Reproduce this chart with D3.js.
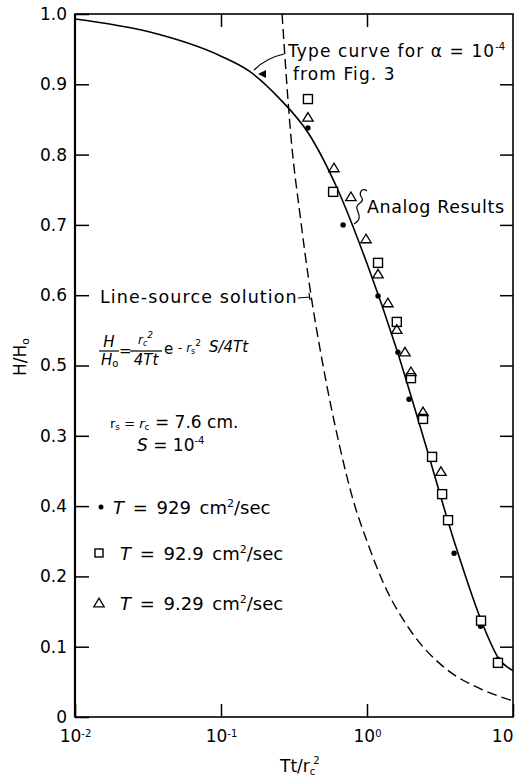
<!DOCTYPE html>
<html><head><meta charset="utf-8">
<script src="https://cdn.jsdelivr.net/npm/d3@7"></script>
<style>
html,body{margin:0;padding:0;background:#fff;}
svg{display:block;font-family:"DejaVu Sans",sans-serif;}
</style></head><body>
<svg id="chart" width="519" height="778"></svg>
<script>
// ---------- data ----------
const xTickValues = [0.01, 0.1, 1, 10];
const xTickBase = ["10", "10", "10", "10"];
const xTickExponents = ["-2", "-1", "0", ""];
const yTickValues = [0, 0.1, 0.2, 0.3, 0.4, 0.5, 0.6, 0.7, 0.8, 0.9, 1.0];
// labels as printed in the original figure
const yTickLabels = ["0", "0.1", "0.2", "0.4", "0.3", "0.5", "0.6", "0.7", "0.8", "0.9", "1.0"];

// type curve for alpha = 1e-4 (solid)
const typeCurveU = [0.01, 0.0316, 0.1, 0.158, 0.251, 0.398, 0.631, 1.0, 1.585, 2.512, 3.981, 6.31, 7.94, 10];
const typeCurveH = [0.993, 0.975, 0.940, 0.918, 0.880, 0.830, 0.750, 0.645, 0.525, 0.388, 0.248, 0.128, 0.084, 0.066];

// line-source solution (dashed)
const lineSourceU = [0.262, 0.3, 0.35, 0.4, 0.5, 0.65, 0.8, 1.0, 1.3, 2.0, 3.5, 6.0, 10];
const lineSourceH = [1.0, 0.83, 0.71, 0.62, 0.50, 0.385, 0.31, 0.25, 0.19, 0.122, 0.068, 0.040, 0.023];

// analog results
const dotU = [0.394, 0.686, 1.19, 1.63, 1.94, 3.95, 6.0, 7.89];
const dotH = [0.838, 0.700, 0.599, 0.519, 0.452, 0.233, 0.129, 0.082];
const squareU = [0.394, 0.586, 1.19, 1.60, 2.0, 2.42, 2.79, 3.27, 3.59, 6.04, 7.89];
const squareH = [0.879, 0.747, 0.646, 0.562, 0.482, 0.424, 0.370, 0.317, 0.280, 0.137, 0.077];
const triU = [0.394, 0.594, 0.776, 0.984, 1.19, 1.39, 1.60, 1.82, 2.0, 2.42, 3.21];
const triH = [0.853, 0.781, 0.740, 0.680, 0.630, 0.589, 0.551, 0.519, 0.491, 0.434, 0.349];

// ---------- layout ----------
const X0 = 75, X1 = 513, Y0 = 717, Y1 = 14;
const svg = d3.select("#chart");
const x = d3.scaleLog().domain([0.01, 10]).range([X0, X1]);
const y = d3.scaleLinear().domain([0, 1]).range([Y0, Y1]);

function styleAxis(g) {
  g.attr("font-family", null).attr("font-size", 17);
  g.select(".domain").remove();
  g.selectAll(".tick line").attr("stroke", "#000").attr("stroke-width", 1.5);
  g.selectAll(".tick text").attr("fill", "#000");
}

// bottom axis
const gx = svg.append("g").attr("transform", `translate(0,${Y0})`)
  .call(d3.axisBottom(x).tickValues(xTickValues).tickSizeInner(-13).tickSizeOuter(0).tickPadding(13).tickFormat(() => ""));
styleAxis(gx);
gx.selectAll(".tick text").each(function(d, i) {
  const t = d3.select(this);
  t.text(null);
  t.append("tspan").text(xTickBase[i]);
  if (xTickExponents[i]) t.append("tspan").attr("dy", "-0.5em").attr("font-size", 10).text(xTickExponents[i]);
  if (i === xTickValues.length - 1) t.attr("text-anchor", "end");
});

// top axis (inner ticks only)
const gt = svg.append("g").attr("transform", `translate(0,${Y1})`)
  .call(d3.axisTop(x).tickValues([0.1, 1]).tickSizeInner(-13).tickSizeOuter(0).tickFormat(() => ""));
styleAxis(gt);

// left axis
const gy = svg.append("g").attr("transform", `translate(${X0},0)`)
  .call(d3.axisLeft(y).tickValues(yTickValues).tickSizeInner(-14).tickSizeOuter(0).tickPadding(8)
    .tickFormat((d, i) => yTickLabels[i]));
styleAxis(gy);

// right axis (inner ticks only)
const gr = svg.append("g").attr("transform", `translate(${X1},0)`)
  .call(d3.axisRight(y).tickValues(yTickValues.slice(1, 10)).tickSizeInner(-13).tickSizeOuter(0).tickFormat(() => ""));
styleAxis(gr);

// frame
svg.append("rect").attr("x", X0).attr("y", Y1).attr("width", X1 - X0).attr("height", Y0 - Y1)
  .attr("fill", "none").attr("stroke", "#000").attr("stroke-width", 1.6);
svg.append("line").attr("x1", X0).attr("x2", X0).attr("y1", Y1).attr("y2", Y0)
  .attr("stroke", "#000").attr("stroke-width", 2.2);

// ---------- curves ----------
const line = d3.line().x(d => x(d[0])).y(d => y(d[1])).curve(d3.curveMonotoneX);
svg.append("path").datum(typeCurveU.map((u, i) => [u, typeCurveH[i]]))
  .attr("d", line).attr("fill", "none").attr("stroke", "#000").attr("stroke-width", 1.6);
svg.append("path").datum(lineSourceU.map((u, i) => [u, lineSourceH[i]]))
  .attr("d", line).attr("fill", "none").attr("stroke", "#000").attr("stroke-width", 1.4)
  .attr("stroke-dasharray", "10,5");

// ---------- markers ----------
svg.append("g").selectAll("circle").data(dotU.map((u, i) => [u, dotH[i]])).join("circle")
  .attr("cx", d => x(d[0])).attr("cy", d => y(d[1])).attr("r", 2.7).attr("fill", "#000");
svg.append("g").selectAll("rect").data(squareU.map((u, i) => [u, squareH[i]])).join("rect")
  .attr("x", d => x(d[0]) - 4.5).attr("y", d => y(d[1]) - 4.5).attr("width", 9).attr("height", 9)
  .attr("fill", "#fff").attr("stroke", "#000").attr("stroke-width", 1.4);
const triPath = "M0,-4.8L5.2,3.8L-5.2,3.8Z";
svg.append("g").selectAll("path").data(triU.map((u, i) => [u, triH[i]])).join("path")
  .attr("transform", d => `translate(${x(d[0])},${y(d[1])})`).attr("d", triPath)
  .attr("fill", "none").attr("stroke", "#000").attr("stroke-width", 1.3);

// ---------- annotations ----------
const txt = svg.append("g").attr("fill", "#000");

// Type curve note
const tc = txt.append("text").attr("x", 288).attr("y", 57).attr("font-size", 17).attr("letter-spacing", 1.1);
tc.append("tspan").text("Type curve for α = 10");
tc.append("tspan").attr("dy", -7).attr("font-size", 10).attr("letter-spacing", 0).text("-4");
txt.append("text").attr("x", 293).attr("y", 80).attr("font-size", 17).attr("letter-spacing", 1.1).text("from Fig. 3");
svg.append("path").attr("d", "M284,54 Q266,58 254,70").attr("fill", "none").attr("stroke", "#000").attr("stroke-width", 1.2);
svg.append("path").attr("d", "M258,74 L266,70 L266,78 Z").attr("fill", "#000");

// Analog results
txt.append("text").attr("x", 367).attr("y", 213).attr("font-size", 17.5).attr("letter-spacing", 0.6).text("Analog Results");
svg.append("path").attr("d", "M367,191 C362,187 358,193 362,198 C365,203 355,203 357,209 C359,215 362,219 354,224")
  .attr("fill", "none").attr("stroke", "#000").attr("stroke-width", 1.2);

// Line-source solution
txt.append("text").attr("x", 100).attr("y", 303).attr("font-size", 17.5).attr("letter-spacing", 1.1).text("Line-source solution");
svg.append("path").attr("d", "M298,298 L310,297 M309,293 L310,300").attr("fill", "none").attr("stroke", "#000").attr("stroke-width", 1.2);

// formula
txt.append("text").attr("x", 109).attr("y", 347).attr("font-size", 15).attr("font-style", "italic").attr("text-anchor", "middle").text("H");
svg.append("line").attr("x1", 99).attr("x2", 119).attr("y1", 351).attr("y2", 351).attr("stroke", "#000").attr("stroke-width", 1.2);
const hd = txt.append("text").attr("x", 101).attr("y", 365).attr("font-size", 15).attr("font-style", "italic");
hd.append("tspan").text("H");
hd.append("tspan").attr("font-size", 10).attr("font-style", "normal").attr("dy", 2).text("o");
txt.append("text").attr("x", 119).attr("y", 356).attr("font-size", 15).text("=");
const rn = txt.append("text").attr("x", 138).attr("y", 344).attr("font-size", 12).attr("font-style", "italic");
rn.append("tspan").text("r");
rn.append("tspan").attr("font-size", 8).attr("dy", 2).text("c");
rn.append("tspan").attr("font-size", 9).attr("dy", -8).text("2");
svg.append("line").attr("x1", 130).attr("x2", 162).attr("y1", 351).attr("y2", 351).attr("stroke", "#000").attr("stroke-width", 1.2);
txt.append("text").attr("x", 146).attr("y", 365).attr("font-size", 15).attr("font-style", "italic").attr("text-anchor", "middle").text("4Tt");
const ex = txt.append("text").attr("x", 164).attr("y", 354).attr("font-size", 15);
ex.append("tspan").text("e ");
ex.append("tspan").attr("font-size", 12).attr("dy", -2).text("- ");
ex.append("tspan").attr("font-size", 12).attr("font-style", "italic").text("r");
ex.append("tspan").attr("font-size", 8).attr("dy", 2).text("s");
ex.append("tspan").attr("font-size", 9).attr("dy", -8).text("2");
ex.append("tspan").attr("font-size", 15).attr("font-style", "italic").attr("dy", 6).attr("dx", 8).text("S/4Tt");

// parameters
const rs = txt.append("text").attr("x", 110).attr("y", 428).attr("font-size", 17);
rs.append("tspan").attr("font-size", 13).text("r");
rs.append("tspan").attr("font-size", 9).attr("dy", 2).text("s");
rs.append("tspan").attr("font-size", 13).attr("dy", -2).text(" = ");
rs.append("tspan").attr("font-size", 13).attr("font-style", "italic").text("r");
rs.append("tspan").attr("font-size", 9).attr("dy", 2).text("c");
rs.append("tspan").attr("dy", -2).text(" = 7.6 cm.");
const sl = txt.append("text").attr("x", 137).attr("y", 451).attr("font-size", 17);
sl.append("tspan").attr("font-style", "italic").text("S");
sl.append("tspan").text(" = 10");
sl.append("tspan").attr("font-size", 10).attr("dy", -7).text("-4");

// legend
function legendText(xp, yp, val) {
  const t = txt.append("text").attr("x", xp).attr("y", yp).attr("font-size", 18).attr("word-spacing", 3);
  t.append("tspan").attr("font-style", "italic").text("T");
  t.append("tspan").text(" = " + val + " cm");
  t.append("tspan").attr("font-size", 11).attr("dy", -7).text("2");
  t.append("tspan").attr("dy", 7).text("/sec");
}
svg.append("circle").attr("cx", 101).attr("cy", 507).attr("r", 2.5).attr("fill", "#000");
legendText(113, 514, "929");
svg.append("rect").attr("x", 95).attr("y", 549).attr("width", 8).attr("height", 8).attr("fill", "#fff").attr("stroke", "#000").attr("stroke-width", 1.4);
legendText(120, 560, "92.9");
svg.append("path").attr("transform", "translate(99,603)").attr("d", triPath).attr("fill", "none").attr("stroke", "#000").attr("stroke-width", 1.3);
legendText(120, 610, "9.29");

// axis titles
const yl = txt.append("text").attr("transform", "translate(26,357) rotate(-90)").attr("text-anchor", "middle").attr("font-size", 17);
yl.append("tspan").text("H/H");
yl.append("tspan").attr("font-size", 11).attr("dy", 3).text("o");
const xl = txt.append("text").attr("x", 280).attr("y", 772).attr("font-size", 17);
xl.append("tspan").text("Tt/r");
xl.append("tspan").attr("font-size", 10).attr("dy", 3).text("c");
xl.append("tspan").attr("font-size", 10).attr("dy", -11).attr("dx", -2).text("2");
</script>
</body></html>
